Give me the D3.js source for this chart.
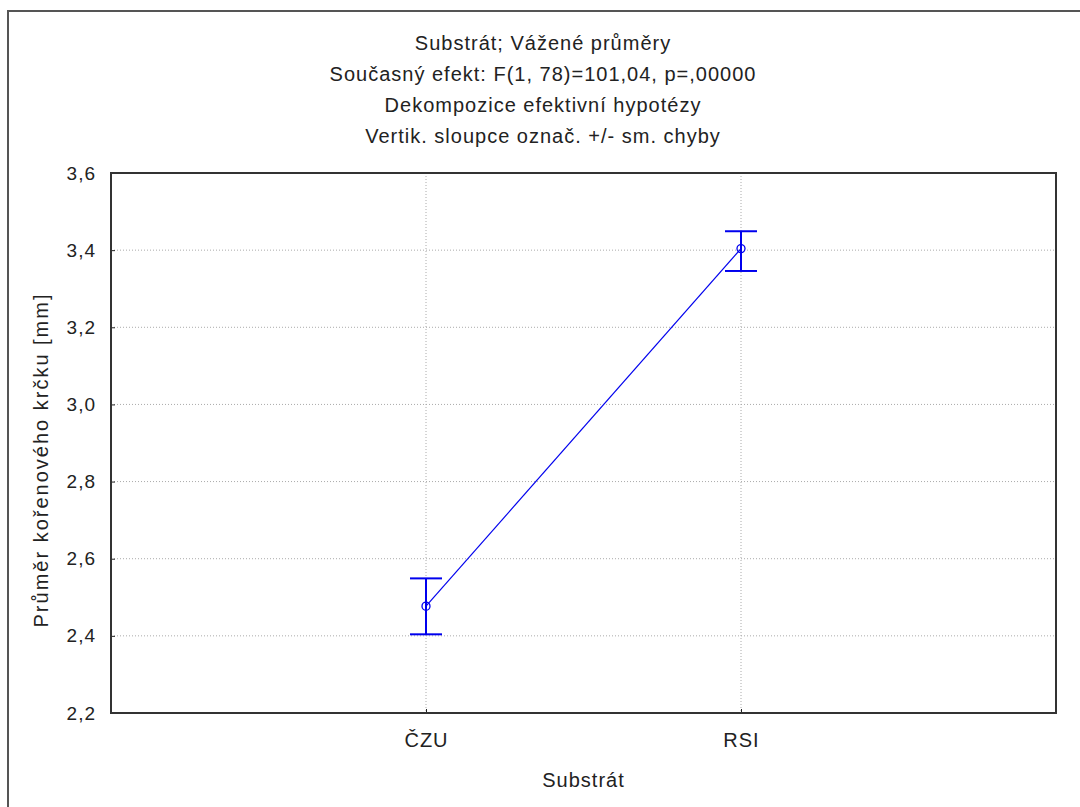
<!DOCTYPE html>
<html>
<head>
<meta charset="utf-8">
<script src="https://cdn.jsdelivr.net/npm/d3@7"></script>
<style>
  body { margin: 0; background: #fff; }
  text { font-family: "Liberation Sans", Arial, sans-serif; fill: #222; }
</style>
</head>
<body>
<svg id="chart"></svg>
<script>
// data
const categories = ["ČZU", "RSI"];
const means = [2.477, 3.404];
const upper = [2.549, 3.449];
const lower = [2.404, 3.346];
const yTicks = [2.2, 2.4, 2.6, 2.8, 3.0, 3.2, 3.4, 3.6];
const titleLines = [
  "Substrát; Vážené průměry",
  "Současný efekt: F(1, 78)=101,04, p=,00000",
  "Dekompozice efektivní hypotézy",
  "Vertik. sloupce označ. +/- sm. chyby"
];

const W = 1080, H = 807;
const margin = { top: 173, right: 24, bottom: 94, left: 111 };
const width = W - margin.left - margin.right;
const height = H - margin.top - margin.bottom;

const svg = d3.select("#chart").attr("width", W).attr("height", H);

// outer frame (only left/top visible)
svg.append("path")
  .attr("d", `M8,${H} L8,11 L${W},11`)
  .attr("fill", "none").attr("stroke", "#555").attr("stroke-width", 2);

const g = svg.append("g").attr("transform", `translate(${margin.left},${margin.top})`);

const x = d3.scalePoint().domain(categories).range([0, width]).padding(1);
const y = d3.scaleLinear().domain([2.2, 3.6]).range([height, 0]);

// grid
g.append("g").selectAll("line").data(yTicks.slice(1, -1)).join("line")
  .attr("x1", 0).attr("x2", width)
  .attr("y1", d => y(d)).attr("y2", d => y(d))
  .attr("stroke", "#aaa").attr("stroke-dasharray", "1,2");
g.append("g").selectAll("line").data(categories).join("line")
  .attr("x1", d => x(d)).attr("x2", d => x(d))
  .attr("y1", 0).attr("y2", height)
  .attr("stroke", "#aaa").attr("stroke-dasharray", "1,2");

// axes
const fmt = d => d3.format(".1f")(d).replace(".", ",");
const yAxis = g.append("g")
  .call(d3.axisLeft(y).tickValues(yTicks).tickFormat(fmt).tickSizeInner(-4).tickSizeOuter(0).tickPadding(15));
yAxis.select(".domain").remove();
yAxis.selectAll("line").attr("stroke", "#222");
yAxis.selectAll("text").attr("font-size", 19).style("letter-spacing", "1px");

const xAxis = g.append("g").attr("transform", `translate(0,${height})`)
  .call(d3.axisBottom(x).tickSizeInner(-4).tickSizeOuter(0).tickPadding(20));
xAxis.select(".domain").remove();
xAxis.selectAll("line").attr("stroke", "#222");
xAxis.selectAll("text").attr("font-size", 20).style("letter-spacing", "1px");

// plot frame
g.append("rect").attr("width", width).attr("height", height)
  .attr("fill", "none").attr("stroke", "#333").attr("stroke-width", 2);

const pts = categories.map((c, i) => ({ c, m: means[i], hi: upper[i], lo: lower[i] }));

// connecting line
g.append("path").datum(pts)
  .attr("fill", "none").attr("stroke", "#0000ee").attr("stroke-width", 1.2)
  .attr("d", d3.line().x(d => x(d.c)).y(d => y(d.m)));

// error bars
const eb = g.append("g").attr("stroke", "#0000ee").attr("stroke-width", 2);
eb.selectAll(".v").data(pts).join("line")
  .attr("x1", d => x(d.c)).attr("x2", d => x(d.c))
  .attr("y1", d => y(d.hi)).attr("y2", d => y(d.lo));
eb.selectAll(".hi").data(pts).join("line")
  .attr("x1", d => x(d.c) - 16).attr("x2", d => x(d.c) + 16)
  .attr("y1", d => y(d.hi)).attr("y2", d => y(d.hi));
eb.selectAll(".lo").data(pts).join("line")
  .attr("x1", d => x(d.c) - 16).attr("x2", d => x(d.c) + 16)
  .attr("y1", d => y(d.lo)).attr("y2", d => y(d.lo));

g.selectAll(".pt").data(pts).join("circle")
  .attr("cx", d => x(d.c)).attr("cy", d => y(d.m)).attr("r", 4)
  .attr("fill", "none").attr("stroke", "#0000ee").attr("stroke-width", 1.3);

// titles
svg.selectAll(".title").data(titleLines).join("text")
  .attr("x", 543).attr("y", (d, i) => 50 + i * 31)
  .attr("text-anchor", "middle").attr("font-size", 20)
  .style("letter-spacing", "1px")
  .text(d => d);

svg.append("text")
  .attr("x", margin.left + width / 2).attr("y", 787)
  .attr("text-anchor", "middle").attr("font-size", 20)
  .style("letter-spacing", "1px")
  .text("Substrát");

svg.append("text")
  .attr("transform", `translate(48,460) rotate(-90)`)
  .attr("text-anchor", "middle").attr("font-size", 20)
  .style("letter-spacing", "2px")
  .text("Průměr kořenového krčku [mm]");
</script>
</body>
</html>
